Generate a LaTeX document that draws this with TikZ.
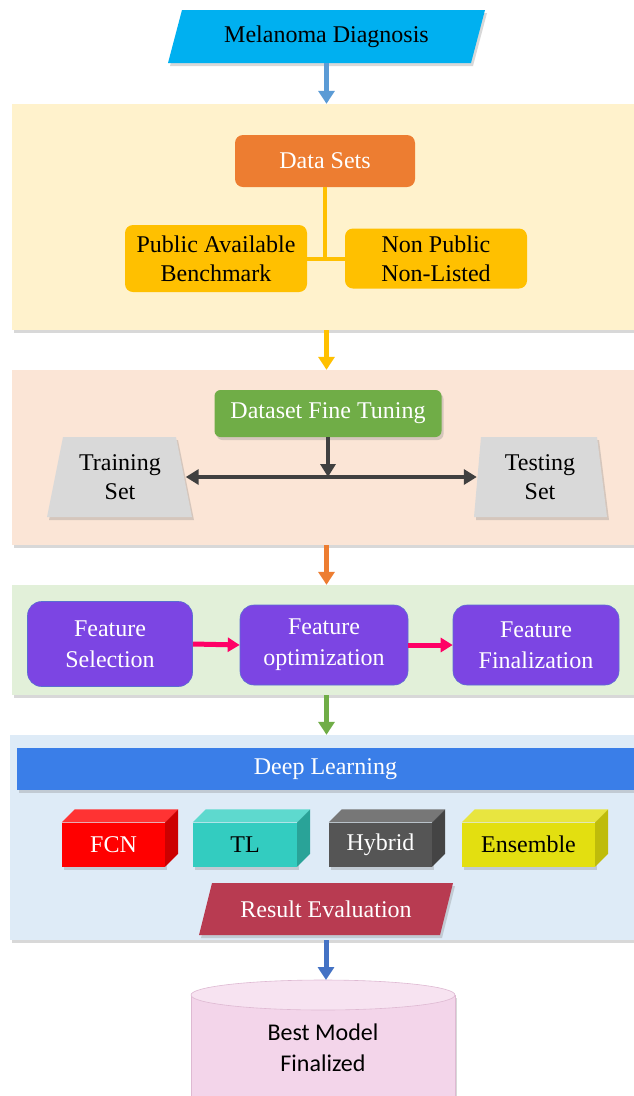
\documentclass[tikz,border=0pt]{standalone}
\usepackage{fontspec}
\setmainfont{Liberation Serif}
\newfontfamily\calibfont{Carlito}
\usetikzlibrary{shapes.geometric,arrows.meta,shadows,calc}

\definecolor{cyanA}{RGB}{0,176,240}
\definecolor{panelYellow}{RGB}{255,242,204}
\definecolor{panelPeach}{RGB}{251,229,214}
\definecolor{panelGreen}{RGB}{226,240,217}
\definecolor{panelBlue}{RGB}{222,235,247}
\definecolor{orangeA}{RGB}{237,125,49}
\definecolor{goldA}{RGB}{255,192,0}
\definecolor{greenA}{RGB}{112,173,71}
\definecolor{greyA}{RGB}{217,217,217}
\definecolor{darkA}{RGB}{64,64,64}
\definecolor{purpleA}{RGB}{124,69,227}
\definecolor{purpleEdge}{RGB}{90,110,210}
\definecolor{pinkA}{RGB}{255,0,102}
\definecolor{blueBar}{RGB}{58,126,232}
\definecolor{arrowSky}{RGB}{91,155,213}
\definecolor{arrowBlue}{RGB}{68,114,196}
\definecolor{crimsonA}{RGB}{184,59,81}
\definecolor{cylBody}{RGB}{243,213,234}
\definecolor{cylTop}{RGB}{247,227,241}
\definecolor{cylEdge}{RGB}{222,185,210}
\definecolor{fcnFront}{RGB}{255,0,0}
\definecolor{fcnTop}{RGB}{255,51,51}
\definecolor{fcnSide}{RGB}{204,0,0}
\definecolor{tlFront}{RGB}{51,204,192}
\definecolor{tlTop}{RGB}{94,217,206}
\definecolor{tlSide}{RGB}{41,163,152}
\definecolor{hybFront}{RGB}{85,85,85}
\definecolor{hybTop}{RGB}{119,119,119}
\definecolor{hybSide}{RGB}{68,68,68}
\definecolor{ensFront}{RGB}{227,223,16}
\definecolor{ensTop}{RGB}{232,229,64}
\definecolor{ensSide}{RGB}{191,188,10}

\begin{document}
\begin{tikzpicture}[x=1pt,y=-1pt,
  font=\fontsize{24}{29}\selectfont,
  softshadow/.style={drop shadow={opacity=0.3,shadow xshift=2pt,shadow yshift=-3pt}},
  panel/.style={fill=#1,minimum width=622pt,softshadow,inner sep=0pt},
  flow/.style={line width=5pt,draw=#1,-{Triangle[width=16pt,length=13pt]}},
  label/.style={inner sep=0pt,align=center},
  goldbox/.style={fill=goldA,rounded corners=8pt,minimum width=182pt,align=center,inner sep=0pt},
  featbox/.style={fill=purpleA,draw=purpleEdge,line width=0.6pt,rounded corners=14pt,
    text=white,align=center,minimum height=80pt,inner sep=0pt,
    font=\fontsize{24}{31}\selectfont},
  front/.style={minimum height=44pt,inner sep=0pt,softshadow}
]
\useasboundingbox (0,0) rectangle (634,1096);
\fill[white] (0,0) rectangle (634,1096);

% stage panels
\node[panel=panelYellow,minimum height=226pt] (p1) at (323,217) {};
\node[panel=panelPeach,minimum height=175pt] (p2) at (323,457.5) {};
\node[panel=panelGreen,minimum height=110pt] (p3) at (323,640) {};
\node[panel=panelBlue,minimum width=624pt,minimum height=205pt] (p4) at (322,837.5) {};

% start
\fill[cyanA,softshadow] (168,63) -- (182,10) -- (485,10) -- (471,63) -- cycle;
\node[label,minimum width=303pt,minimum height=53pt] (md) at (326.5,36.5) {Melanoma Diagnosis};
\draw[flow=arrowSky] (md.south) -- (md.south |- p1.north);

% data sets
\node[fill=orangeA,text=white,rounded corners=8pt,minimum width=180pt,minimum height=52pt] (ds) at (325,161) {Data Sets};
\node[goldbox,minimum height=67pt] (pub) at (216,258.5) {Public Available\\Benchmark};
\node[goldbox,minimum height=60pt] (npub) at (436,258.5) {Non Public\\Non-Listed};
\draw[goldA,line width=4pt] (ds.south) -- (ds.south |- pub.east);
\draw[goldA,line width=4pt] (pub.east) -- (npub.west);
\draw[flow=goldA] (p1.south -| md.south) -- (p2.north -| md.south);

% fine tuning
\node[fill=greenA,text=white,rounded corners=6pt,minimum width=227pt,minimum height=47pt,softshadow] (dft) at (328,413.5) {Dataset Fine Tuning};
\fill[greyA,softshadow] (47,517) -- (63,437) -- (176,437) -- (192,517) -- cycle;
\fill[greyA,softshadow] (474,517) -- (481,437) -- (597,437) -- (607,517) -- cycle;
\node[label,minimum width=131pt,minimum height=80pt] (train) at (120,477) {Training\\Set};
\node[label,minimum width=126pt,minimum height=80pt] (test) at (540,477) {Testing\\Set};
\draw[darkA,line width=4pt,-{Triangle[width=15pt,length=13pt]}] (dft.south) -- (dft.south |- train.east);
\draw[darkA,line width=4pt,{Triangle[width=15pt,length=13pt]}-{Triangle[width=15pt,length=13pt]}] (train.east) -- (test.west);
\draw[flow=orangeA] (p2.south -| md.south) -- (p3.north -| md.south);

% features
\node[featbox,minimum width=165pt,minimum height=85pt] (fs) at (110,644) {Feature\\Selection};
\node[featbox,minimum width=168pt] (fo) at (324,645) {Feature\\optimization};
\node[featbox,minimum width=166pt] (ff) at (536,645) {Feature\\Finalization};
\draw[pinkA,line width=5pt,-{Triangle[width=14pt,length=12pt]}] (fs.east) -- (fo.west);
\draw[pinkA,line width=5pt,-{Triangle[width=14pt,length=12pt]}] (fo.east) -- (ff.west);
\draw[flow=greenA] (p3.south -| md.south) -- (p4.north -| md.south);

% deep learning
\node[fill=blueBar,text=white,minimum width=617pt,minimum height=42pt,inner sep=0pt,softshadow] (dl) at (325.5,769) {Deep Learning};

\node[front,fill=fcnFront,text=white,minimum width=103pt] (fcn) at (113.5,844.5) {FCN};
\node[front,fill=tlFront,text=black,minimum width=104pt] (tl) at (245,844.5) {TL};
\node[front,fill=hybFront,text=white,minimum width=103pt] (hyb) at (380.5,844.5) {Hybrid};
\node[front,fill=ensFront,text=black,minimum width=133pt] (ens) at (528.5,844.5) {Ensemble};
\foreach \b/\t/\s in {fcn/fcnTop/fcnSide,tl/tlTop/tlSide,hyb/hybTop/hybSide,ens/ensTop/ensSide}{
  \fill[\t] (\b.north west) -- ([shift={(13,-13)}]\b.north west)
     -- ([shift={(13,-13)}]\b.north east) -- (\b.north east) -- cycle;
  \fill[\s] (\b.north east) -- ([shift={(13,-13)}]\b.north east)
     -- ([shift={(13,-13)}]\b.south east) -- (\b.south east) -- cycle;
}

\fill[crimsonA,softshadow] (199,935) -- (212,883) -- (453,883) -- (440,935) -- cycle;
\node[label,text=white,minimum width=241pt,minimum height=52pt] (re) at (326,909) {Result Evaluation};

% final model store
\fill[cylBody,softshadow] (191,995) -- (191,1110) -- (455,1110) -- (455,995) -- cycle;
\draw[cylEdge,line width=0.6pt] (191,995) -- (191,1110) (455,995) -- (455,1110);
\filldraw[fill=cylTop,draw=cylEdge,line width=0.6pt] (323,995) ellipse [x radius=132, y radius=15];
\coordinate (cyl) at (326,980);
\node[font=\calibfont\fontsize{24}{31}\selectfont,align=center] (bm) at (323,1048) {Best Model\\Finalized};
\draw[flow=arrowBlue] (cyl |- p4.south) -- (cyl);
\end{tikzpicture}
\end{document}
